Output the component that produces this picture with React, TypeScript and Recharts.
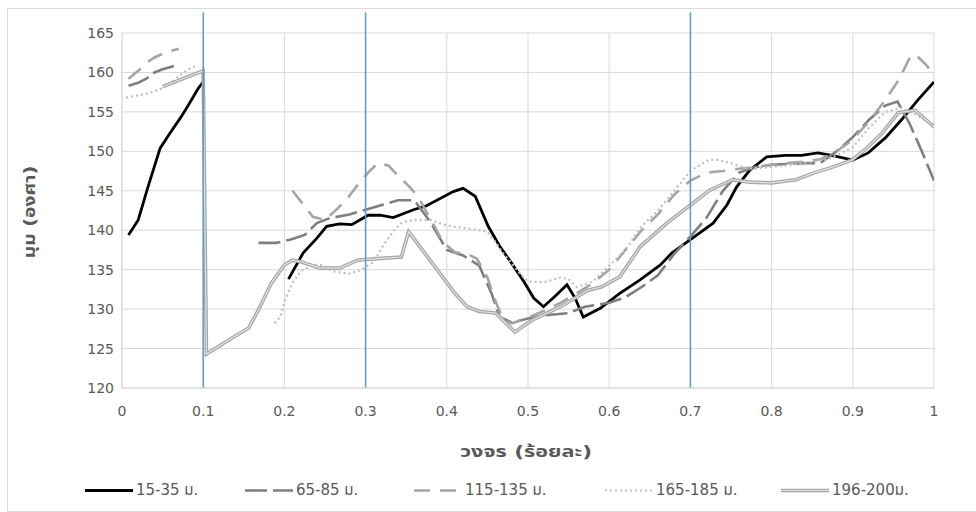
import React from 'react';
import { LineChart, Line, XAxis, YAxis, CartesianGrid, ReferenceLine } from 'recharts';

type Pt = [number, number | null];

const FONT = '"DejaVu Sans", "Noto Sans Thai", "Noto Sans", sans-serif';
const TEXT = '#595959';
const GRID = '#d9d9d9';

const X_TICKS = [0, 0.1, 0.2, 0.3, 0.4, 0.5, 0.6, 0.7, 0.8, 0.9, 1];
const Y_TICKS = [120, 125, 130, 135, 140, 145, 150, 155, 160, 165];
const PHASE_MARKS = [0.1, 0.3, 0.7];

const SERIES_NAMES = ['15-35 ม.', '65-85 ม.', '115-135 ม.', '165-185 ม.', '196-200ม.'];
const LEGEND_LEFT = [85, 245, 414, 605, 781];

// x = วงจร (0-1), y = มุม (องศา); null = ช่วงที่ไม่มีข้อมูล
const S15_35: Pt[] = [
    [0.008, 139.4], [0.02, 141.3], [0.032, 145.5], [0.047, 150.4], [0.059, 152.3], [0.073, 154.4],
    [0.082, 155.9], [0.094, 158], [0.1, 158.8], [0.15, null],
    [0.205, 133.8], [0.223, 137.1], [0.24, 139], [0.252, 140.5], [0.268, 140.8], [0.283, 140.7],
    [0.303, 141.9], [0.318, 141.9], [0.334, 141.6], [0.359, 142.6], [0.375, 143.1], [0.408, 144.9],
    [0.42, 145.3], [0.435, 144.3], [0.451, 140.5], [0.465, 138], [0.48, 135.8], [0.496, 133.3],
    [0.507, 131.4], [0.519, 130.3], [0.533, 131.6], [0.548, 133.1], [0.558, 131.4], [0.568, 129],
    [0.589, 130.1], [0.613, 132], [0.638, 133.7], [0.663, 135.6], [0.677, 137.1], [0.7, 138.8],
    [0.728, 140.9], [0.745, 143.2], [0.757, 145.5], [0.773, 147.6], [0.794, 149.3], [0.817, 149.5],
    [0.837, 149.5], [0.857, 149.8], [0.874, 149.5], [0.9, 148.9], [0.919, 149.8], [0.94, 151.7],
    [0.96, 154], [0.98, 156.5], [1, 158.8],
];

const S65_85: Pt[] = [
    [0.008, 158.3], [0.02, 158.7], [0.03, 159.2], [0.04, 160], [0.05, 160.4], [0.06, 160.7],
    [0.07, 161], [0.15, null],
    [0.168, 138.4], [0.19, 138.4], [0.207, 138.8], [0.225, 139.4], [0.24, 140.9], [0.255, 141.5],
    [0.28, 142], [0.3, 142.6], [0.32, 143.2], [0.34, 143.8], [0.36, 143.8], [0.38, 141],
    [0.4, 137.5], [0.42, 136.8], [0.44, 135.5], [0.455, 132], [0.465, 129], [0.48, 128.3],
    [0.5, 128.8], [0.52, 129.2], [0.55, 129.5], [0.57, 130.3], [0.6, 130.8], [0.62, 131.5],
    [0.64, 132.8], [0.66, 134.3], [0.68, 137], [0.7, 139.2], [0.72, 141.6], [0.74, 145],
    [0.76, 147.3], [0.78, 148], [0.8, 148.3], [0.84, 148.5], [0.86, 148.5], [0.88, 150],
    [0.9, 151.8], [0.92, 154], [0.94, 155.8], [0.955, 156.3], [0.97, 153.5], [0.985, 150], [1, 146.3],
];

const S115_135: Pt[] = [
    [0.008, 159.2], [0.02, 160.2], [0.03, 161.2], [0.04, 161.9], [0.055, 162.6], [0.07, 163],
    [0.15, null],
    [0.21, 145], [0.223, 143.3], [0.235, 141.7], [0.25, 141.3], [0.266, 142.8], [0.278, 144.1],
    [0.29, 145.7], [0.303, 147.3], [0.315, 148.5], [0.328, 148.2], [0.342, 146.7], [0.355, 145.4],
    [0.365, 144.2], [0.375, 142.3], [0.385, 140.5], [0.395, 138.5], [0.41, 137.2], [0.425, 137],
    [0.437, 136.4], [0.45, 134], [0.46, 131], [0.47, 128.5], [0.48, 128.2], [0.5, 128.9],
    [0.52, 129.8], [0.54, 130.8], [0.56, 132], [0.58, 133.3], [0.6, 135], [0.62, 137.5],
    [0.64, 140], [0.66, 142], [0.68, 144.5], [0.7, 146.3], [0.72, 147.3], [0.74, 147.5],
    [0.76, 147.8], [0.78, 148], [0.8, 148.3], [0.82, 148.5], [0.84, 148.7], [0.86, 149],
    [0.88, 150], [0.9, 151.5], [0.92, 153.8], [0.94, 156.5], [0.955, 158.8], [0.97, 161.8],
    [0.977, 162.3], [0.99, 161], [1, 159.7],
];

const S165_185: Pt[] = [
    [0.005, 156.8], [0.02, 157.1], [0.03, 157.3], [0.04, 157.6], [0.05, 158], [0.06, 158.7],
    [0.07, 159.5], [0.08, 160.3], [0.09, 160.8], [0.15, null],
    [0.188, 128.2], [0.195, 129], [0.2, 131], [0.21, 133.3], [0.22, 134.8], [0.235, 135.6],
    [0.245, 135.6], [0.26, 134.8], [0.28, 134.5], [0.295, 135], [0.31, 136], [0.32, 137.8],
    [0.335, 140], [0.345, 141], [0.36, 141.3], [0.38, 141.3], [0.4, 140.6], [0.42, 140.3],
    [0.44, 140], [0.45, 139.8], [0.46, 138.5], [0.47, 137], [0.48, 135.8], [0.49, 134.5],
    [0.5, 133.5], [0.52, 133.4], [0.54, 134], [0.55, 133.8], [0.56, 132.8], [0.58, 133.5],
    [0.6, 135.5], [0.62, 137.5], [0.64, 140.5], [0.66, 142.5], [0.68, 145], [0.7, 147.5],
    [0.72, 148.8], [0.73, 149], [0.75, 148.5], [0.77, 147.8], [0.8, 148], [0.84, 148.5],
    [0.87, 149], [0.9, 150.5], [0.92, 153], [0.94, 155], [0.96, 155.5], [0.98, 154.5], [1, 153.3],
];

const S196_200: Pt[] = [
    [0.05, 158.2], [0.06, 158.6], [0.07, 159], [0.08, 159.4], [0.09, 159.8], [0.1, 160.2],
    [0.104, 124.3], [0.115, 125], [0.13, 126], [0.156, 127.6], [0.168, 129.9], [0.184, 133.3],
    [0.2, 135.6], [0.21, 136.2], [0.22, 136], [0.244, 135.2], [0.268, 135.2], [0.29, 136.2],
    [0.314, 136.4], [0.344, 136.6], [0.353, 139.8], [0.367, 137.9], [0.388, 135], [0.41, 132],
    [0.425, 130.3], [0.44, 129.7], [0.46, 129.5], [0.484, 127.1], [0.505, 128.6], [0.54, 130.3],
    [0.574, 132.4], [0.59, 132.8], [0.613, 134.1], [0.638, 137.9], [0.671, 140.9], [0.7, 143.2],
    [0.724, 145.1], [0.752, 146.4], [0.773, 146.1], [0.8, 146], [0.83, 146.4], [0.853, 147.3],
    [0.875, 148], [0.899, 148.9], [0.915, 150.2], [0.936, 152.3], [0.956, 154.9], [0.977, 155.2],
    [0.99, 154], [1, 153.1],
];

const rows = (pts: Pt[]) => pts.map(([x, y]) => ({ x, y }));

const LINE_STYLES = [
    { stroke: '#000000', width: 2.8, dash: undefined },
    { stroke: '#7f7f7f', width: 2.6, dash: '22 6' },
    { stroke: '#a5a5a5', width: 2.6, dash: '16 10' },
    { stroke: '#bfbfbf', width: 2.2, dash: '2 3' },
    { stroke: '#a5a5a5', width: 3.6, dash: undefined },
];

const SERIES_DATA = [S15_35, S65_85, S115_135, S165_185, S196_200];

function LegendMark({ i }: { i: number }) {
    const s = LINE_STYLES[i];
    return (
        <svg width={48} height={8} style={{ display: 'block' }}>
            <line x1={0} y1={4} x2={48} y2={4} stroke={s.stroke} strokeWidth={s.width} strokeDasharray={s.dash} />
            {i === 4 && <line x1={0} y1={4} x2={48} y2={4} stroke="#e6e6e6" strokeWidth={1.1} />}
        </svg>
    );
}

export default function App() {
    return (
        <div style={{ position: 'absolute', left: 0, top: 0, width: 976, height: 512, overflow: 'hidden', fontFamily: FONT }}>
            <style>{`body{margin:0;overflow:hidden}`}</style>
            <div style={{ position: 'absolute', left: 7, top: 8, width: 980, height: 502, borderLeft: `1px solid ${GRID}`, borderTop: `1px solid ${GRID}`, borderBottom: `1px solid ${GRID}` }} />
            <div style={{ position: 'absolute', left: 0, top: 0 }}>
                <LineChart width={976} height={512} margin={{ top: 33, right: 42, bottom: 94, left: 0 }}>
                    <CartesianGrid stroke={GRID} strokeWidth={1} />
                    <XAxis
                        type="number"
                        dataKey="x"
                        domain={[0, 1]}
                        ticks={X_TICKS}
                        height={30}
                        allowDataOverflow
                        axisLine={{ stroke: GRID }}
                        tickLine={false}
                        tickMargin={12}
                        tick={{ fill: TEXT, fontSize: 14, fontFamily: FONT }}
                    />
                    <YAxis
                        type="number"
                        domain={[120, 165]}
                        ticks={Y_TICKS}
                        width={122}
                        allowDataOverflow
                        axisLine={{ stroke: GRID }}
                        tickLine={false}
                        tick={{ fill: TEXT, fontSize: 14, fontFamily: FONT }}
                    />
                    {SERIES_DATA.map((d, i) => (
                        <Line
                            key={SERIES_NAMES[i]}
                            data={rows(d)}
                            dataKey="y"
                            name={SERIES_NAMES[i]}
                            type="linear"
                            stroke={LINE_STYLES[i].stroke}
                            strokeWidth={LINE_STYLES[i].width}
                            strokeDasharray={LINE_STYLES[i].dash}
                            dot={false}
                            activeDot={false}
                            isAnimationActive={false}
                        />
                    ))}
                    {/* เส้นในของเส้นคู่ 196-200ม. */}
                    <Line
                        data={rows(S196_200)}
                        dataKey="y"
                        type="linear"
                        stroke="#e6e6e6"
                        strokeWidth={1.1}
                        dot={false}
                        activeDot={false}
                        legendType="none"
                        isAnimationActive={false}
                    />
                    {PHASE_MARKS.map((x) => (
                        <ReferenceLine
                            key={x}
                            segment={[{ x, y: 120 }, { x, y: 167.6 }]}
                            stroke="#5b9bd5"
                            strokeWidth={1.5}
                            ifOverflow="visible"
                        />
                    ))}
                </LineChart>
            </div>
            <div style={{ position: 'absolute', left: 526, top: 452, transform: 'translate(-50%, -50%) scaleX(1.35)', fontSize: 16, fontWeight: 'bold', color: TEXT, whiteSpace: 'nowrap' }}>
                วงจร (ร้อยละ)
            </div>
            <div style={{ position: 'absolute', left: 30, top: 212, transform: 'translate(-50%, -50%) rotate(-90deg) scaleX(1.2)', fontSize: 16, fontWeight: 'bold', color: TEXT, whiteSpace: 'nowrap' }}>
                มุม (องศา)
            </div>
            {SERIES_NAMES.map((n, i) => (
                <div key={n} style={{ position: 'absolute', left: LEGEND_LEFT[i], top: 490, transform: 'translateY(-50%)', display: 'flex', alignItems: 'center', gap: 3, fontSize: 15, color: TEXT, whiteSpace: 'nowrap' }}>
                    <LegendMark i={i} />
                    <span>{n}</span>
                </div>
            ))}
        </div>
    );
}
